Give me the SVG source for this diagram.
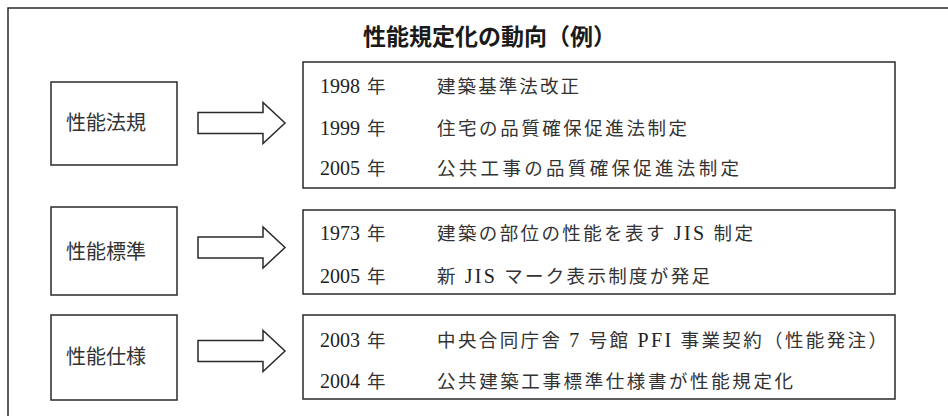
<svg xmlns="http://www.w3.org/2000/svg" width="948" height="416" viewBox="0 0 948 416">
<style>
.bg{fill:#ffffff}
.frame{fill:none;stroke:#2a2a2a;stroke-width:1.5}
.box{fill:#ffffff;stroke:#2a2a2a;stroke-width:1.5}
.arrow{fill:#ffffff;stroke:#2a2a2a;stroke-width:1.5;stroke-linejoin:miter}
.title{font-family:"Noto Sans CJK JP","Noto Sans",sans-serif;font-size:23px;font-weight:700;fill:#1a1a1a}
.lbl{font-family:"Noto Sans CJK JP","Noto Sans",sans-serif;font-size:20px;fill:#333333}
.yr{font-family:"Liberation Serif",serif;font-size:20px;fill:#222222}
.nen{font-family:"Noto Sans CJK JP",sans-serif;font-size:18.5px;fill:#333333}
.d{font-family:"Liberation Serif","Noto Sans CJK JP",serif;font-size:18.5px;fill:#333333}
.l{font-size:20px;fill:#222222}
</style>
<rect class="bg" x="0" y="0" width="948" height="416"/>
<path class="frame" d="M8,416 V8 H948"/>
<text class="title" x="489.5" y="45" text-anchor="middle">性能規定化の動向（例）</text>

<g id="node-hoki">
<rect class="box" x="51" y="82" width="126" height="83"/>
<text class="lbl" x="66" y="130">性能法規</text>
</g>
<g id="node-hyojun">
<rect class="box" x="51" y="207" width="126" height="88"/>
<text class="lbl" x="66" y="259">性能標準</text>
</g>
<g id="node-shiyo">
<rect class="box" x="51" y="315" width="126" height="85"/>
<text class="lbl" x="66" y="364">性能仕様</text>
</g>

<g id="node-hoki-list">
<rect class="box" x="303" y="62" width="592" height="126"/>
<text class="yr" x="320" y="93">1998</text><text class="nen" x="367" y="93">年</text>
<text class="d" x="437" y="93" textLength="142" lengthAdjust="spacing">建築基準法改正</text>
<text class="yr" x="320" y="135">1999</text><text class="nen" x="367" y="135">年</text>
<text class="d" x="437" y="135" textLength="250" lengthAdjust="spacing">住宅の品質確保促進法制定</text>
<text class="yr" x="320" y="175">2005</text><text class="nen" x="367" y="175">年</text>
<text class="d" x="437" y="175" textLength="302" lengthAdjust="spacing">公共工事の品質確保促進法制定</text>
</g>
<g id="node-hyojun-list">
<rect class="box" x="303" y="210" width="592" height="84"/>
<text class="yr" x="320" y="240">1973</text><text class="nen" x="367" y="240">年</text>
<text class="d" x="437" y="240" textLength="316" lengthAdjust="spacing">建築の部位の性能を表す <tspan class="l">JIS</tspan> 制定</text>
<text class="yr" x="320" y="282.5">2005</text><text class="nen" x="367" y="282.5">年</text>
<text class="d" x="437" y="282.5" textLength="273" lengthAdjust="spacing">新 <tspan class="l">JIS</tspan> マーク表示制度が発足</text>
</g>
<g id="node-shiyo-list">
<rect class="box" x="303" y="315" width="592" height="84"/>
<text class="yr" x="320" y="346.5">2003</text><text class="nen" x="367" y="346.5">年</text>
<text class="d" x="437" y="346.5" textLength="450" lengthAdjust="spacing">中央合同庁舎 <tspan class="l">7</tspan> 号館 <tspan class="l">PFI</tspan> 事業契約（性能発注）</text>
<text class="yr" x="320" y="388">2004</text><text class="nen" x="367" y="388">年</text>
<text class="d" x="437" y="388" textLength="356" lengthAdjust="spacing">公共建築工事標準仕様書が性能規定化</text>
</g>

<g id="connectors">
<polygon class="arrow" points="198,112.5 263,112.5 263,102.5 285,123 263,143.5 263,133.5 198,133.5"/>
<polygon class="arrow" points="198,237 263,237 263,227 285,247.5 263,268 263,258 198,258"/>
<polygon class="arrow" points="198,340.5 263,340.5 263,330.5 285,351 263,371.5 263,361.5 198,361.5"/>
</g>
</svg>
